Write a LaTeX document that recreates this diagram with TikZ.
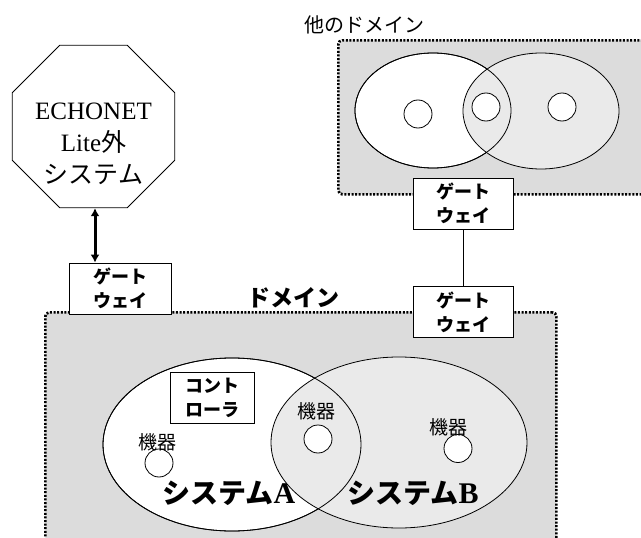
\documentclass[tikz,border=0pt]{standalone}
\usepackage{fontspec}
\setmainfont{Liberation Serif}
\newfontfamily\jp{Noto Sans CJK JP}
\usetikzlibrary{shapes.geometric,arrows.meta}
\definecolor{domgray}{RGB}{220,220,220}
\definecolor{sysgray}{RGB}{234,234,234}
\begin{document}
\begin{tikzpicture}[x=1pt,y=-1pt,
  gw/.style={draw,fill=white,line width=0.8pt,minimum width=100pt,minimum height=51pt,inner sep=0pt,align=center,font=\jp\bfseries\fontsize{18}{24}\selectfont},
  dom/.style={draw,line width=2.7pt,dash pattern=on 2pt off 1.6pt,fill=domgray,rounded corners=4pt,inner sep=0pt},
  dev/.style={circle,draw,fill=white,line width=0.8pt,minimum size=28pt,inner sep=0pt},
  lbl/.style={font=\jp\fontsize{19}{22}\selectfont,inner sep=0pt},
  sys/.style={ellipse,draw,line width=0.8pt,inner sep=0pt},
  thin/.style={line width=0.8pt},
  systxt/.style={font=\bfseries\fontsize{28}{30}\selectfont},
]
\useasboundingbox (0,0) rectangle (641,538);
\clip (0,0) rectangle (641,538);
% other domain
\node[dom,anchor=north west,minimum width=323pt,minimum height=154pt] (odom) at (337,39) {};
\node[font=\jp\fontsize{20}{24}\selectfont] (odlbl) at (364,25) {他のドメイン};
\node[sys,fill=white,minimum width=156pt,minimum height=115pt] (oA) at (433,110.5) {};
\node[sys,fill=sysgray,minimum width=156pt,minimum height=116pt] (oB) at (541,111) {};
\draw[thin] (oA.center) ellipse [x radius=78, y radius=57.5];
\node[dev] (od1) at (418,114) {};
\node[dev] (od2) at (486,107) {};
\node[dev] (od3) at (562,107) {};
% domain
\node[dom,anchor=north west,minimum width=511pt,minimum height=260pt] (dom) at (44,311) {};
\node[font=\jp\bfseries\fontsize{23}{26}\selectfont] (domlbl) at (293,298) {ドメイン};
% gateways
\node[gw] (gwT) at (463,203.5) {ゲート\\ウェイ};
\node[gw] (gwR) at (463,312) {ゲート\\ウェイ};
\node[gw,minimum width=102pt] (gwL) at (120,288.5) {ゲート\\ウェイ};
\draw[thin] (gwT) -- (gwR);
% external system
\node[regular polygon,regular polygon sides=8,draw,thin,minimum size=176pt,inner sep=0pt] (ext) at (93.5,126.5) {};
\node[align=center,font=\fontsize{25}{32}\selectfont] (extlbl) at (93.5,144) {ECHONET\\Lite{\jp 外}\\{\jp システム}};
\draw[line width=3pt,{Latex[length=8pt,width=9pt]}-{Latex[length=8pt,width=9pt]}] ([xshift=1.5pt]ext.south) -- ([xshift=1.5pt]ext.south |- gwL.north);
% systems
\node[sys,fill=white,minimum width=258pt,minimum height=173pt] (sA) at (232,444.5) {};
\node[sys,fill=sysgray,minimum width=256pt,minimum height=171pt] (sB) at (399,442.5) {};
\draw[thin] (sA.center) ellipse [x radius=129, y radius=86.5];
\node[gw,minimum width=84pt] (ctl) at (212,397.5) {コント\\ローラ};
\node[dev] (d1) at (159,463) {};
\node[dev] (d2) at (318,439) {};
\node[dev] (d3) at (458,448.5) {};
\node[lbl] (l1) at (157,442) {機器};
\node[lbl] (l2) at (316,411) {機器};
\node[lbl] (l3) at (448,427) {機器};
\node[systxt] (tA) at (229,493) {{\jp システム}{\fontsize{30}{30}\selectfont A}};
\node[systxt] (tB) at (413,493) {{\jp システム}{\fontsize{30}{30}\selectfont B}};
\end{tikzpicture}
\end{document}
